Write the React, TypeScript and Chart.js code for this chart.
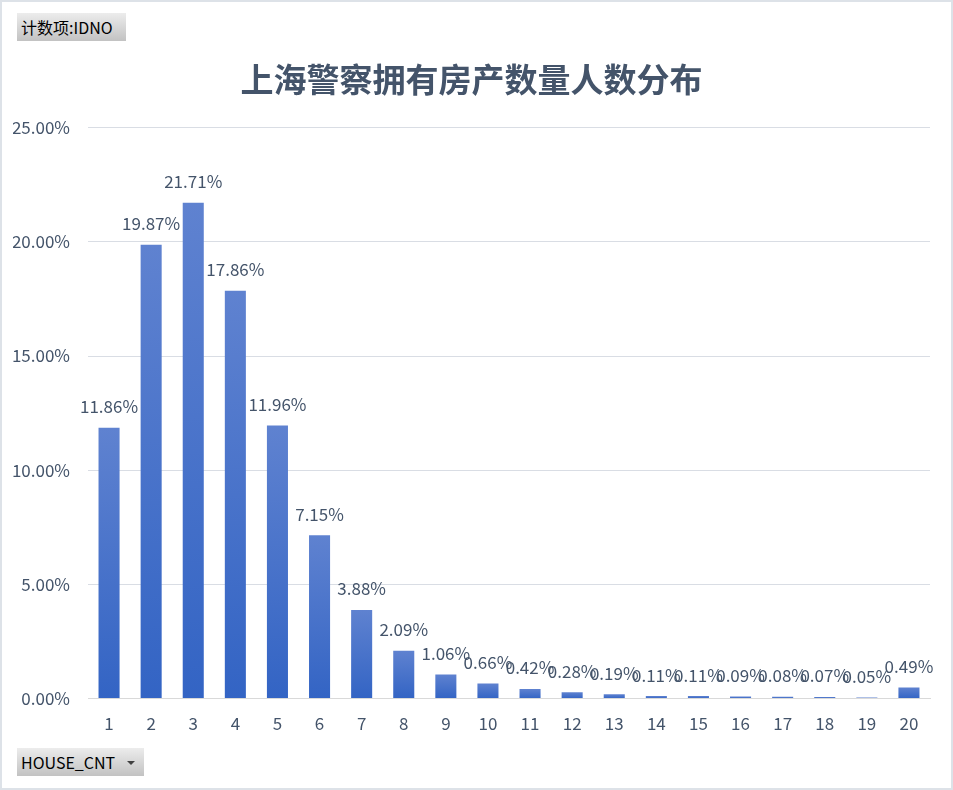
import React, { useEffect, useRef } from "react";
import { Chart, registerables } from "chart.js";

Chart.register(...registerables);

const TITLE = "上海警察拥有房产数量人数分布";
const categories = ["1","2","3","4","5","6","7","8","9","10","11","12","13","14","15","16","17","18","19","20"];
const values = [11.86, 19.87, 21.71, 17.86, 11.96, 7.15, 3.88, 2.09, 1.06, 0.66, 0.42, 0.28, 0.19, 0.11, 0.11, 0.09, 0.08, 0.07, 0.05, 0.49];
const yMax = 25;
const yStep = 5;

const TEXT = "#44546a";
const FONT = "'Noto Sans CJK SC', 'Noto Sans', sans-serif";

const labelPlugin = {
  id: "valueLabels",
  afterDatasetsDraw(chart: any) {
    const ctx = chart.ctx;
    const meta = chart.getDatasetMeta(0);
    ctx.save();
    ctx.fillStyle = TEXT;
    ctx.font = `17px ${FONT}`;
    ctx.textAlign = "center";
    ctx.textBaseline = "middle";
    meta.data.forEach((el: any, i: number) => {
      ctx.fillText(values[i].toFixed(2) + "%", el.x, el.y - 21);
    });
    ctx.restore();
  },
};

export default function App() {
  const ref = useRef<HTMLCanvasElement | null>(null);
  useEffect(() => {
    const canvas = ref.current!;
    const chart = new Chart(canvas, {
      type: "bar",
      data: {
        labels: categories,
        datasets: [
          {
            data: values,
            backgroundColor: (c: any) => {
              const ch = c.chart;
              const y = ch.scales?.y;
              if (!y || c.dataIndex === undefined) return "#4472c4";
              const top = y.getPixelForValue(values[c.dataIndex]);
              const bottom = y.getPixelForValue(0);
              if (!isFinite(top) || !isFinite(bottom) || top === bottom) return "#3d6cc8";
              const g = ch.ctx.createLinearGradient(0, top, 0, bottom);
              g.addColorStop(0, "#5f82d0");
              g.addColorStop(1, "#3364c4");
              return g;
            },
            barPercentage: 0.5,
            categoryPercentage: 1,
          },
        ],
      },
      options: {
        responsive: false,
        animation: false,
        devicePixelRatio: 1,
        layout: { padding: { left: 11, right: 21, top: 0, bottom: 39 } },
        plugins: {
          legend: { display: false },
          tooltip: { enabled: false },
          title: {
            display: true,
            text: TITLE,
            color: TEXT,
            font: { size: 33, weight: "bold", family: FONT },
            padding: { top: 58, bottom: 28 },
          },
        },
        scales: {
          x: {
            grid: { display: false, drawTicks: false },
            border: { color: "#d9d9d9", width: 1 },
            ticks: { color: TEXT, font: { size: 17, family: FONT }, padding: 15 },
          },
          y: {
            min: 0,
            max: yMax,
            afterFit: (s: any) => {
              s.width = 75;
            },
            grid: { color: "#d9dde4", drawTicks: false },
            border: { display: false },
            ticks: {
              stepSize: yStep,
              color: TEXT,
              font: { size: 17, family: FONT },
              padding: 18,
              callback: (v: any) => Number(v).toFixed(2) + "%",
            },
          },
        },
      },
      plugins: [labelPlugin],
    } as any);
    return () => chart.destroy();
  }, []);

  const btn: React.CSSProperties = {
    position: "absolute",
    background: "linear-gradient(#ececec, #c2c2c2)",
    color: "#000",
    fontFamily: "'Noto Sans CJK SC', sans-serif",
    fontSize: 16,
    lineHeight: "28px",
    height: 28,
    boxSizing: "border-box",
    paddingLeft: 4,
    whiteSpace: "nowrap",
  };

  return (
    <div
      style={{
        position: "absolute",
        left: 0,
        top: 0,
        width: 953,
        height: 790,
        boxSizing: "border-box",
        border: "2px solid #dde2e8",
        background: "#fff",
      }}
    >
      <canvas ref={ref} width={949} height={786} style={{ display: "block" }} />
      <div style={{ ...btn, left: 15, top: 11, width: 109 }}>计数项:IDNO</div>
      <div style={{ ...btn, left: 15, top: 746, width: 127 }}>
        HOUSE_CNT
        <span
          style={{
            position: "absolute",
            left: 110,
            top: 13,
            width: 0,
            height: 0,
            borderLeft: "4px solid transparent",
            borderRight: "4px solid transparent",
            borderTop: "4px solid #404040",
          }}
        />
      </div>
    </div>
  );
}
